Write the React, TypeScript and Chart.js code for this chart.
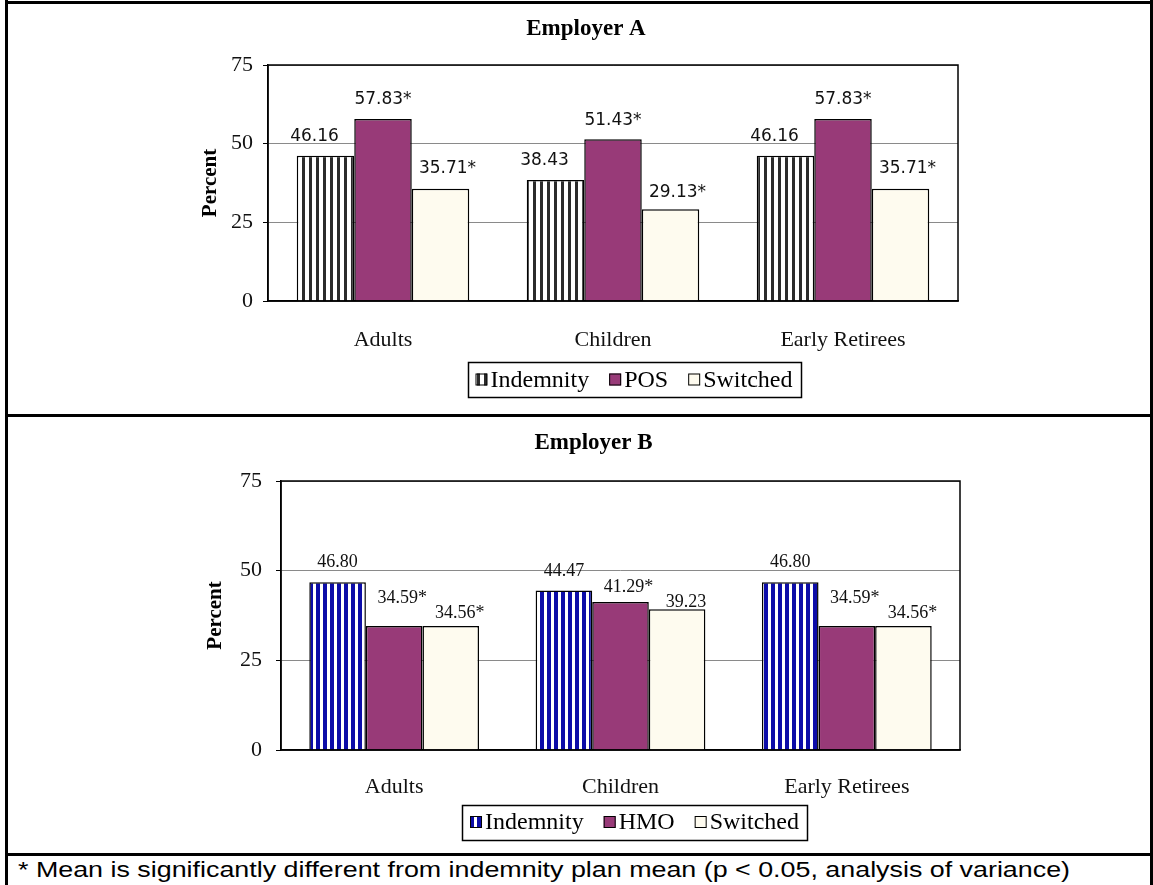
import React, { useEffect, useRef } from 'react';
import { Chart, registerables } from 'chart.js';

Chart.register(...registerables);

// ---------- data ----------
const categories = ['Adults', 'Children', 'Early Retirees'];
const yTickValues = [0, 25, 50, 75];

const titleA = 'Employer A';
const seriesNamesA = ['Indemnity', 'POS', 'Switched'];
const indemnityA = [46.16, 38.43, 46.16];
const posA = [57.83, 51.43, 57.83];
const switchedA = [35.71, 29.13, 35.71];
const sigIndemnityA = [false, false, false];
const sigPosA = [true, true, true];
const sigSwitchedA = [true, true, true];

const titleB = 'Employer B';
const seriesNamesB = ['Indemnity', 'HMO', 'Switched'];
const indemnityB = [46.8, 44.47, 46.8];
const hmoB = [34.59, 41.29, 34.59];
const switchedB = [34.56, 39.23, 34.56];
const sigIndemnityB = [false, false, false];
const sigHmoB = [true, true, true];
const sigSwitchedB = [true, false, true];

const axisTitle = 'Percent';
const footnote = '* Mean is significantly different from indemnity plan mean (p < 0.05, analysis of variance)';

// ---------- styles ----------
const PURPLE = '#983a78';
const IVORY = '#fefbef';
const SERIF = "'Liberation Serif', 'Times New Roman', serif";
const CANVAS_W = 1142;

function makeStripe(fg: string, bg: string, period: number, fgW: number) {
  const c = document.createElement('canvas');
  c.width = period;
  c.height = 4;
  const g = c.getContext('2d')!;
  g.fillStyle = bg;
  g.fillRect(0, 0, period, 4);
  g.fillStyle = fg;
  g.fillRect(0, 0, fgW, 4);
  const main = document.createElement('canvas').getContext('2d')!;
  return main.createPattern(c, 'repeat')!;
}

type PanelCfg = {
  title: string;
  names: string[];
  values: number[][];
  sig: boolean[][];
  stripe: [string, string, number, number];
  height: number;
  padding: { left: number; right: number; top: number; bottom: number };
  titleY: number;
  titleDx: number;
  axisTitleDx: number;
  legendCy: number;
  legendDx: number;
  xTickPadding: number;
  yTickPadding: number;
  labelFont: string;
  labelDx: number[];
  labelDy: number[][];
};

const panelA: PanelCfg = {
  title: titleA,
  names: seriesNamesA,
  values: [indemnityA, posA, switchedA],
  sig: [sigIndemnityA, sigPosA, sigSwitchedA],
  stripe: ['#2b2b2b', '#ffffff', 7, 3],
  height: 410,
  padding: { left: 220, right: 192, top: 61, bottom: 53 },
  titleY: 25,
  titleDx: -27,
  axisTitleDx: -57,
  legendCy: 375.5,
  legendDx: 21,
  xTickPadding: 26,
  yTickPadding: 10,
  labelFont: "17px 'DejaVu Sans', sans-serif",
  labelDx: [-11, 0, 7],
  labelDy: [
    [19, 19, 19],
    [19, 19, 19],
    [20, 17, 20],
  ],
};

const panelB: PanelCfg = {
  title: titleB,
  names: seriesNamesB,
  values: [indemnityB, hmoB, switchedB],
  sig: [sigIndemnityB, sigHmoB, sigSwitchedB],
  stripe: ['#0c0ca8', '#ffffff', 7, 4],
  height: 436,
  padding: { left: 233, right: 190, top: 64, bottom: 43 },
  titleY: 26,
  titleDx: -27,
  axisTitleDx: -65,
  legendCy: 405,
  legendDx: 14,
  xTickPadding: 24,
  yTickPadding: 14,
  labelFont: `18px ${SERIF}`,
  labelDx: [0, 8, 9],
  labelDy: [
    [20, 19, 20],
    [28, 15, 28],
    [13, 7, 13],
  ],
};

function Panel({ cfg, top }: { cfg: PanelCfg; top: number }) {
  const ref = useRef<HTMLCanvasElement>(null);

  useEffect(() => {
    const canvas = ref.current!;
    const stripe = makeStripe(...cfg.stripe);
    const fills: (string | CanvasPattern)[] = [stripe, PURPLE, IVORY];

    const decor = {
      id: 'decor',
      afterDraw(chart: any) {
        const { ctx, chartArea: ca } = chart;
        ctx.save();
        // plot border
        ctx.strokeStyle = '#000';
        ctx.lineWidth = 1.5;
        ctx.strokeRect(ca.left, ca.top, ca.right - ca.left, ca.bottom - ca.top);

        // data labels
        ctx.fillStyle = '#111';
        ctx.font = cfg.labelFont;
        ctx.textAlign = 'center';
        ctx.textBaseline = 'middle';
        chart.data.datasets.forEach((ds: any, di: number) => {
          const meta = chart.getDatasetMeta(di);
          meta.data.forEach((bar: any, i: number) => {
            const v = ds.data[i] as number;
            const txt = v.toFixed(2) + (cfg.sig[di][i] ? '*' : '');
            ctx.fillText(txt, bar.x + cfg.labelDx[di], bar.y - cfg.labelDy[di][i]);
          });
        });

        // title
        const cx = (ca.left + ca.right) / 2;
        ctx.fillStyle = '#000';
        ctx.font = `bold 23px ${SERIF}`;
        ctx.fillText(cfg.title, cx + cfg.titleDx, cfg.titleY);

        // y axis title
        ctx.save();
        ctx.translate(ca.left + cfg.axisTitleDx, (ca.top + ca.bottom) / 2);
        ctx.rotate(-Math.PI / 2);
        ctx.font = `bold 21px ${SERIF}`;
        ctx.fillText(axisTitle, 0, 0);
        ctx.restore();

        // legend
        ctx.font = `24px ${SERIF}`;
        const sw = 12, gapSw = 3, itemGap = 20, padX = 8, h = 35;
        const widths = chart.data.datasets.map((d: any) => ctx.measureText(d.label).width);
        const total =
          padX * 2 +
          widths.reduce((a: number, w: number) => a + sw + gapSw + w, 0) +
          itemGap * (widths.length - 1);
        const lcx = cx + cfg.legendDx;
        let x = lcx - total / 2;
        const cy = cfg.legendCy;
        ctx.lineWidth = 1.5;
        ctx.strokeStyle = '#000';
        ctx.strokeRect(Math.round(x) + 0.5, Math.round(cy - h / 2) + 0.5, Math.round(total), h);
        x += padX;
        ctx.textAlign = 'left';
        chart.data.datasets.forEach((d: any, di: number) => {
          ctx.fillStyle = d.backgroundColor;
          ctx.fillRect(x, cy - sw / 2, sw, sw);
          ctx.lineWidth = 1;
          ctx.strokeRect(x + 0.5, cy - sw / 2 + 0.5, sw - 1, sw - 1);
          ctx.fillStyle = '#000';
          ctx.fillText(d.label, x + sw + gapSw, cy + 1);
          x += sw + gapSw + widths[di] + itemGap;
        });
        ctx.restore();
      },
    };

    const chart = new Chart(canvas, {
      type: 'bar',
      data: {
        labels: categories,
        datasets: cfg.names.map((name, i) => ({
          label: name,
          data: cfg.values[i],
          backgroundColor: fills[i] as any,
          borderColor: '#000',
          borderWidth: 1.5,
          categoryPercentage: 0.75,
          barPercentage: 1.0,
        })),
      },
      options: {
        responsive: false,
        maintainAspectRatio: false,
        animation: false,
        layout: { padding: cfg.padding },
        plugins: {
          legend: { display: false },
          title: { display: false },
          tooltip: { enabled: false },
        },
        scales: {
          x: {
            grid: { display: false, drawTicks: false },
            border: { display: true, color: '#000', width: 1.5 },
            ticks: {
              color: '#111',
              font: { family: SERIF, size: 22 },
              padding: cfg.xTickPadding,
            },
            afterFit: (s: any) => {
              s.height = 60;
            },
          },
          y: {
            min: yTickValues[0],
            max: yTickValues[yTickValues.length - 1],
            afterBuildTicks: (s: any) => {
              s.ticks = yTickValues.map((v) => ({ value: v }));
            },
            grid: {
              color: '#8a8a8a',
              lineWidth: 1,
              tickColor: '#000',
              tickLength: 5,
            },
            border: { display: true, color: '#000', width: 1.5 },
            ticks: {
              color: '#111',
              font: { family: SERIF, size: 22 },
              padding: cfg.yTickPadding,
            },
            afterFit: (s: any) => {
              s.width = 40;
            },
          },
        },
      },
      plugins: [decor],
    });
    return () => chart.destroy();
  }, [cfg]);

  return (
    <canvas
      ref={ref}
      width={CANVAS_W}
      height={cfg.height}
      style={{ position: 'absolute', left: 8, top, width: CANVAS_W, height: cfg.height }}
    />
  );
}

const line = (style: React.CSSProperties): React.CSSProperties => ({
  position: 'absolute',
  background: '#000',
  ...style,
});

export default function App() {
  return (
    <div
      style={{
        position: 'absolute',
        left: 0,
        top: 0,
        width: 1153,
        height: 885,
        overflow: 'hidden',
        background: '#fff',
      }}
    >
      <Panel cfg={panelA} top={4} />
      <Panel cfg={panelB} top={417} />
      <div style={line({ left: 5, top: 1, width: 1148, height: 3 })} />
      <div style={line({ left: 5, top: 0, width: 3, height: 885 })} />
      <div style={line({ left: 1150, top: 0, width: 3, height: 885 })} />
      <div style={line({ left: 5, top: 414, width: 1148, height: 3 })} />
      <div style={line({ left: 5, top: 853, width: 1148, height: 3 })} />
      <div
        style={{
          position: 'absolute',
          left: 18,
          top: 857,
          fontFamily: "'Liberation Sans', Arial, sans-serif",
          fontSize: 22,
          lineHeight: '26px',
          whiteSpace: 'nowrap',
          transform: 'scaleX(1.22)',
          transformOrigin: 'left top',
          color: '#000',
        }}
      >
        {footnote}
      </div>
    </div>
  );
}
